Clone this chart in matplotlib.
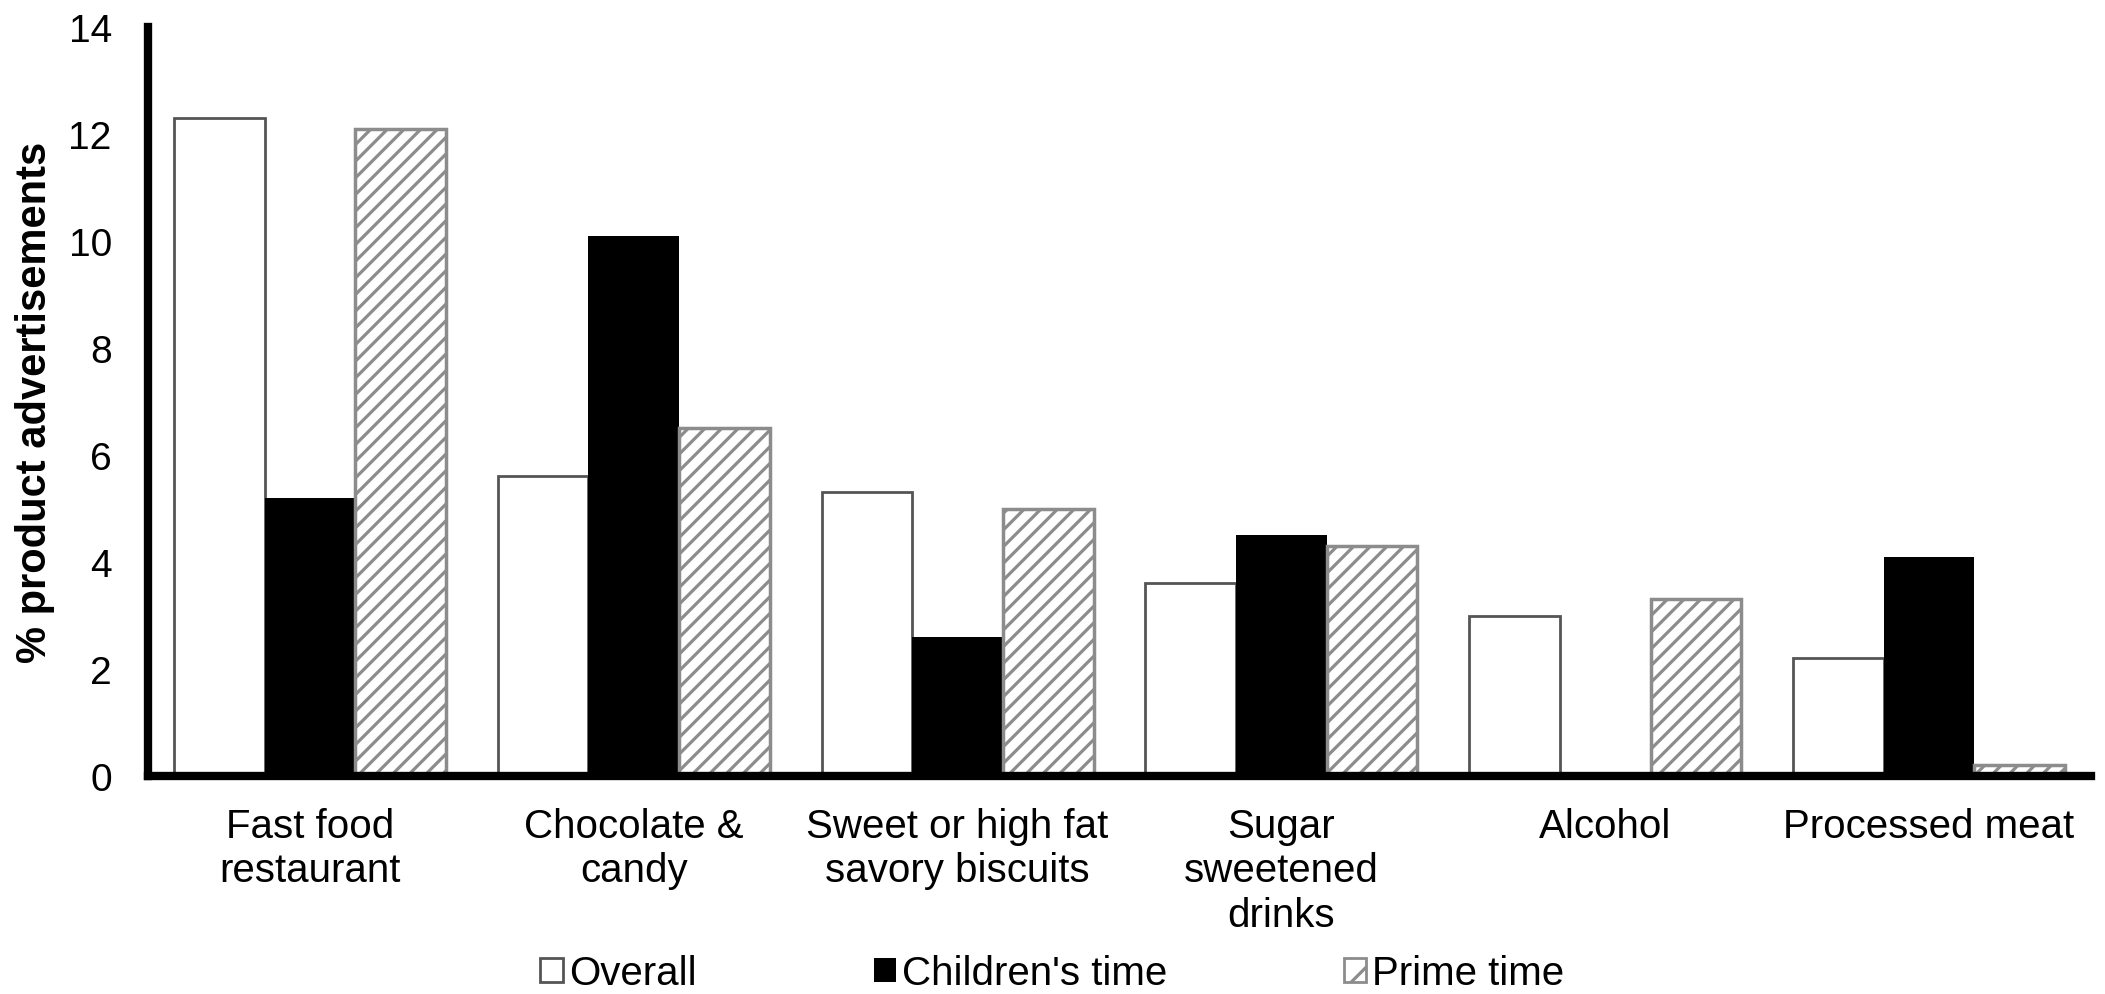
import matplotlib
matplotlib.use("Agg")
import matplotlib.pyplot as plt
import numpy as np
from matplotlib.patches import Patch

plt.rcParams['font.family'] = ['Liberation Sans', 'DejaVu Sans']
plt.rcParams['hatch.linewidth'] = 2.3
plt.rcParams['hatch.color'] = '#8c8c8c'

categories = ["Fast food\nrestaurant", "Chocolate &\ncandy", "Sweet or high fat\nsavory biscuits",
              "Sugar\nsweetened\ndrinks", "Alcohol", "Processed meat"]
overall = [12.3, 5.6, 5.3, 3.6, 3.0, 2.2]
childrens_time = [5.2, 10.1, 2.6, 4.5, 0.0, 4.1]
prime_time = [12.1, 6.5, 5.0, 4.3, 3.3, 0.2]
series_names = ["Overall", "Children's time", "Prime time"]
y_ticks = [0, 2, 4, 6, 8, 10, 12, 14]

FS = 29
fig = plt.figure(figsize=(21.05, 9.95), dpi=100)
ax = fig.add_axes([0.0703, 0.219, 0.923, 0.753])

x = np.arange(len(categories))
w = 0.28
ax.bar(x - w, overall, w, color='white', edgecolor='#555555', linewidth=2)
ax.bar(x, childrens_time, w, color='black', edgecolor='black', linewidth=0)
ax.bar(x + w, prime_time, w, color='white', edgecolor='#8c8c8c', linewidth=2.5, hatch='//')

ax.set_xlim(-0.5, len(categories) - 0.5)
ax.set_ylim(0, 14)
ax.set_yticks(y_ticks)
ax.set_yticklabels([str(t) for t in y_ticks], fontsize=28)
ax.tick_params(axis='y', length=0, pad=26)
ax.set_xticks(x)
ax.set_xticklabels(categories, fontsize=FS, linespacing=1.22)
ax.tick_params(axis='x', length=0, pad=22)

for s in ['top', 'right']:
    ax.spines[s].set_visible(False)
for s in ['left', 'bottom']:
    ax.spines[s].set_linewidth(6)
    ax.spines[s].set_color('black')

ax.set_ylabel("% product advertisements", fontsize=30, fontweight='bold')
ax.yaxis.set_label_coords(-0.048, 0.5)

handles = [
    Patch(facecolor='white', edgecolor='#555555', linewidth=2),
    Patch(facecolor='black', edgecolor='black', linewidth=0),
    Patch(facecolor='white', edgecolor='#8c8c8c', linewidth=2, hatch='/'),
]
fig.legend(handles, series_names, loc='center', bbox_to_anchor=(0.5, 0.021), ncol=3,
           frameon=False, fontsize=FS, handlelength=0.55, handleheight=0.55,
           handletextpad=0.15, columnspacing=4.4, borderpad=0, borderaxespad=0)

fig.savefig("out.png", dpi=100)
